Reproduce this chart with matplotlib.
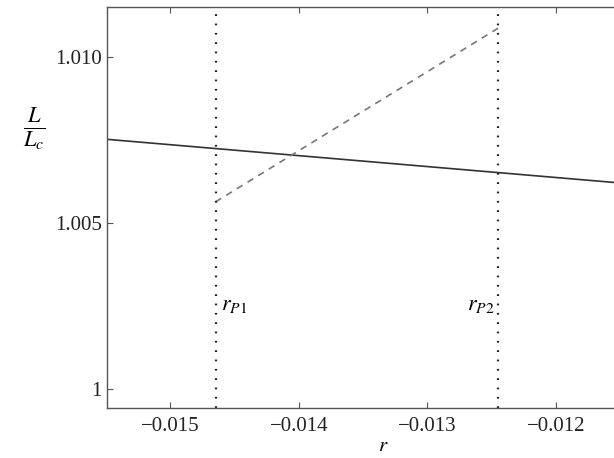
import numpy as np
from matplotlib import pyplot as plt

plt.rcParams['font.family'] = 'Liberation Serif'
plt.rcParams['mathtext.fontset'] = 'stix'

# values
r_solid = [-0.0155, -0.0112]
L_solid = [1.00753, 1.00611]

r_dashed = [-0.014647, -0.012451]
L_dashed = [1.00564, 1.01088]

r_P = [-0.014647, -0.012451]
P_labels = [r'$r_{\mathit{P1}}$', r'$r_{\mathit{P2}}$']

x_ticks = [-0.015, -0.014, -0.013, -0.012]
x_ticklabels = ['\u22120.015', '\u22120.014', '\u22120.013', '\u22120.012']
y_ticks = [1.0, 1.005, 1.010]
y_ticklabels = ['1', '1.005', '1.010']

fig = plt.figure(figsize=(6.14, 4.58), dpi=100)
ax = fig.add_axes([0.1738, 0.1085, 0.9012, 0.8755])

ax.plot(r_solid, L_solid, color='#333333', lw=1.2)
ax.plot(r_dashed, L_dashed, color='#777777', lw=1.2, linestyle=(0, (4, 3.5)))
for xp in r_P:
    ax.axvline(xp, color='#222222', lw=1.6, linestyle=(0, (0.8, 3.4)))

ax.text(r_P[0] + 0.00004, 1.00237, P_labels[0], fontsize=16,
        ha='left', va='baseline')
ax.text(r_P[1] - 0.00003, 1.00237, P_labels[1], fontsize=16,
        ha='right', va='baseline')

ax.set_xlim(-0.015493, -0.011192)
ax.set_ylim(0.99941, 1.01151)
ax.set_xticks(x_ticks)
ax.set_xticklabels(x_ticklabels)
ax.set_yticks(y_ticks)
ax.set_yticklabels(y_ticklabels)
ax.tick_params(direction='in', length=4, width=0.8, labelsize=15,
               top=True, right=True, colors='#555555', labelcolor='#222222')
ax.tick_params(axis='x', pad=6)
for s in ax.spines.values():
    s.set_color('#555555')
    s.set_linewidth(1.0)

ax.set_xlabel('$r$', fontsize=15, labelpad=1)
ax.set_ylabel(r'$\frac{L}{L_c}$', fontsize=23, rotation=0, labelpad=22)
ax.yaxis.set_label_coords(-0.13, 0.64)

fig.savefig('out.png', dpi=100)
